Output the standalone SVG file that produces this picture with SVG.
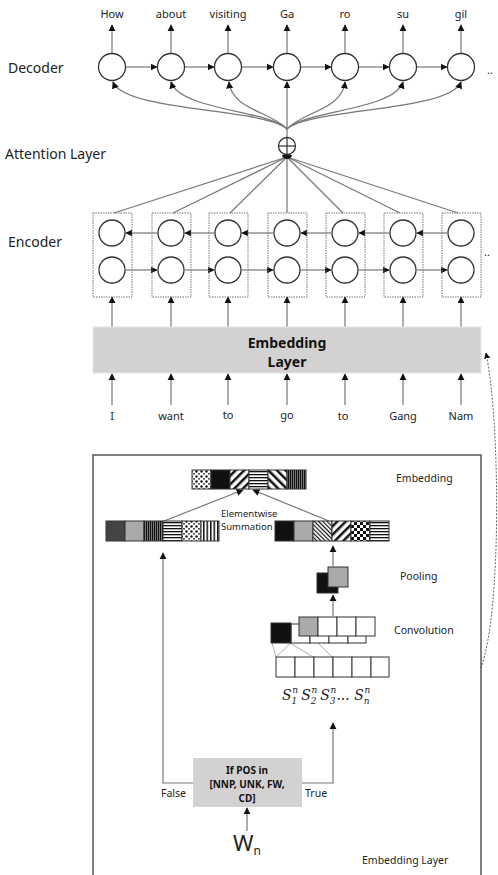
<svg xmlns="http://www.w3.org/2000/svg" width="498" height="875" viewBox="0 0 498 875">
<style>
.lbl{font-family:"Noto Sans","Open Sans",sans-serif;fill:#222}
.t11{font-size:11px}
.t14{font-size:14px}
.t10{font-size:10.5px}
.node{fill:#fff;stroke:#333;stroke-width:1.3}
.ln{stroke:#777;stroke-width:1.2;fill:none}
.ar{stroke:#777;stroke-width:1.2;fill:none;marker-end:url(#ah)}
.box{fill:none;stroke:#777;stroke-width:1;stroke-dasharray:1.5,1}
.cell{stroke:#333;stroke-width:1}
.bold{font-weight:bold;fill:#111}
</style>
<defs>
<marker id="ah" viewBox="0 0 10 10" refX="9" refY="5" markerWidth="6" markerHeight="6" orient="auto"><path d="M0,0L10,5L0,10z" fill="#111"/></marker>
<pattern id="pDots" width="5" height="5" patternUnits="userSpaceOnUse"><rect width="5" height="5" fill="#fff"/><circle cx="1.5" cy="1.5" r="1.2" fill="#111"/><circle cx="4" cy="3.8" r="0.9" fill="#111"/></pattern>
<pattern id="pBack" width="6" height="6" patternUnits="userSpaceOnUse" patternTransform="rotate(45)"><rect width="6" height="6" fill="#fff"/><rect width="2.5" height="6" fill="#111"/></pattern>
<pattern id="pSlash" width="6" height="6" patternUnits="userSpaceOnUse" patternTransform="rotate(-45)"><rect width="6" height="6" fill="#fff"/><rect width="2.5" height="6" fill="#111"/></pattern>
<pattern id="pFine" width="3" height="3" patternUnits="userSpaceOnUse" patternTransform="rotate(-45)"><rect width="3" height="3" fill="#fff"/><rect width="1.2" height="3" fill="#111"/></pattern>
<pattern id="pHor" width="4" height="3" patternUnits="userSpaceOnUse"><rect width="4" height="3" fill="#fff"/><rect width="4" height="1.3" fill="#111"/></pattern>
<pattern id="pVdark" width="2" height="4" patternUnits="userSpaceOnUse"><rect width="2" height="4" fill="#777"/><rect width="1" height="4" fill="#111"/></pattern>
<pattern id="pVert" width="3.5" height="4" patternUnits="userSpaceOnUse"><rect width="3.5" height="4" fill="#fff"/><rect width="1.5" height="4" fill="#111"/></pattern>
<pattern id="pCheck" width="6" height="6" patternUnits="userSpaceOnUse"><rect width="6" height="6" fill="#fff"/><rect width="3" height="3" fill="#111"/><rect x="3" y="3" width="3" height="3" fill="#111"/></pattern>
</defs>

<!-- Labels -->
<g id="labels">
<text class="lbl t14" x="8" y="73">Decoder</text>
<text class="lbl t14" x="5" y="159">Attention Layer</text>
<text class="lbl t14" x="8" y="247">Encoder</text>
<text class="lbl t11" x="487" y="74">..</text>
<text class="lbl t11" x="484" y="256">..</text>
</g>

<!-- Connectors -->
<g id="connectors">
<g>
<line class="ar" x1="112" y1="53" x2="112" y2="25"/>
<line class="ar" x1="171" y1="53" x2="171" y2="25"/>
<line class="ar" x1="228" y1="53" x2="228" y2="25"/>
<line class="ar" x1="287" y1="53" x2="287" y2="25"/>
<line class="ar" x1="345" y1="53" x2="345" y2="25"/>
<line class="ar" x1="403" y1="53" x2="403" y2="25"/>
<line class="ar" x1="461" y1="53" x2="461" y2="25"/>
</g>
<g>
<line class="ar" x1="126" y1="67" x2="157" y2="67"/>
<line class="ar" x1="185" y1="67" x2="214" y2="67"/>
<line class="ar" x1="242" y1="67" x2="273" y2="67"/>
<line class="ar" x1="301" y1="67" x2="331" y2="67"/>
<line class="ar" x1="359" y1="67" x2="389" y2="67"/>
<line class="ar" x1="417" y1="67" x2="447" y2="67"/>
</g>
<g>
<path class="ar" d="M287,129 C265,108 125,112 113,82"/>
<path class="ar" d="M287,129 C268,110 180,110 171,82"/>
<path class="ar" d="M287,129 C272,112 232,110 229,82"/>
<path class="ar" d="M287,137 L287,82"/>
<path class="ar" d="M287,129 C302,112 342,110 345,82"/>
<path class="ar" d="M287,129 C306,110 394,110 403,82"/>
<path class="ar" d="M287,129 C309,108 449,112 461,82"/>
</g>
<g>
<line class="ln" x1="287" y1="157" x2="114" y2="213"/>
<line class="ln" x1="287" y1="157" x2="173" y2="213"/>
<line class="ln" x1="287" y1="157" x2="230" y2="213"/>
<line class="ln" x1="287" y1="157" x2="287" y2="213"/>
<line class="ln" x1="287" y1="157" x2="343" y2="213"/>
<line class="ln" x1="287" y1="157" x2="400" y2="213"/>
<line class="ln" x1="287" y1="157" x2="458" y2="213"/>
</g>
<g>
<line class="ar" x1="157" y1="233" x2="126" y2="233"/>
<line class="ar" x1="214" y1="233" x2="185" y2="233"/>
<line class="ar" x1="273" y1="233" x2="242" y2="233"/>
<line class="ar" x1="331" y1="233" x2="301" y2="233"/>
<line class="ar" x1="389" y1="233" x2="359" y2="233"/>
<line class="ar" x1="447" y1="233" x2="417" y2="233"/>
</g>
<g>
<line class="ar" x1="126" y1="270" x2="157" y2="270"/>
<line class="ar" x1="185" y1="270" x2="214" y2="270"/>
<line class="ar" x1="242" y1="270" x2="273" y2="270"/>
<line class="ar" x1="301" y1="270" x2="331" y2="270"/>
<line class="ar" x1="359" y1="270" x2="389" y2="270"/>
<line class="ar" x1="417" y1="270" x2="447" y2="270"/>
</g>
<g>
<line class="ar" x1="112" y1="327" x2="112" y2="297"/>
<line class="ar" x1="171" y1="327" x2="171" y2="297"/>
<line class="ar" x1="228" y1="327" x2="228" y2="297"/>
<line class="ar" x1="287" y1="327" x2="287" y2="297"/>
<line class="ar" x1="345" y1="327" x2="345" y2="297"/>
<line class="ar" x1="403" y1="327" x2="403" y2="297"/>
<line class="ar" x1="461" y1="327" x2="461" y2="297"/>
</g>
<g>
<line class="ar" x1="112" y1="405" x2="112" y2="374"/>
<line class="ar" x1="171" y1="405" x2="171" y2="374"/>
<line class="ar" x1="228" y1="405" x2="228" y2="374"/>
<line class="ar" x1="287" y1="405" x2="287" y2="374"/>
<line class="ar" x1="345" y1="405" x2="345" y2="374"/>
<line class="ar" x1="403" y1="405" x2="403" y2="374"/>
<line class="ar" x1="461" y1="405" x2="461" y2="374"/>
</g>
<path d="M481,668 C502,610 500,420 486,353" fill="none" stroke="#666" stroke-width="1" stroke-dasharray="2,1.5" marker-end="url(#ah)"/>
<line class="ar" x1="164" y1="521" x2="243" y2="490"/>
<line class="ar" x1="329" y1="521" x2="253" y2="490"/>
<line class="ar" x1="333" y1="566" x2="333" y2="546"/>
<line class="ar" x1="333" y1="616" x2="333" y2="595"/>
<polyline class="ar" points="193,783 163,783 163,553"/>
<polyline class="ar" points="302,783 333,783 333,723"/>
<line class="ar" x1="247" y1="831" x2="247" y2="808"/>
<g stroke="#999" stroke-width="0.8" fill="none">
<line x1="272" y1="643" x2="276" y2="657"/>
<line x1="290" y1="643" x2="313" y2="657"/>
<line x1="298" y1="636" x2="276" y2="657"/>
<line x1="318" y1="643" x2="332" y2="657"/>
</g>
</g>

<g id="decoder">
<circle class="node" cx="112" cy="67" r="13.5"/>
<circle class="node" cx="171" cy="67" r="13.5"/>
<circle class="node" cx="228" cy="67" r="13.5"/>
<circle class="node" cx="287" cy="67" r="13.5"/>
<circle class="node" cx="345" cy="67" r="13.5"/>
<circle class="node" cx="403" cy="67" r="13.5"/>
<circle class="node" cx="461" cy="67" r="13.5"/>
<g class="lbl t11" text-anchor="middle">
<text x="112" y="18">How</text>
<text x="171" y="18">about</text>
<text x="228" y="18">visiting</text>
<text x="287" y="18">Ga</text>
<text x="345" y="18">ro</text>
<text x="403" y="18">su</text>
<text x="461" y="18">gil</text>
</g>
</g>

<g id="attention">
<circle cx="287" cy="146" r="8.5" fill="#fff" stroke="#333" stroke-width="1.3"/>
<line x1="278.5" y1="146" x2="295.5" y2="146" stroke="#333" stroke-width="1.2"/>
<line x1="287" y1="137.5" x2="287" y2="154.5" stroke="#333" stroke-width="1.2"/>
<path d="M282,155 A5,4 0 0 0 292,155 Z" fill="#111"/>
</g>

<g id="encoder">
<rect class="box" x="93" y="213" width="39" height="84"/>
<rect class="box" x="152" y="213" width="39" height="84"/>
<rect class="box" x="209" y="213" width="39" height="84"/>
<rect class="box" x="268" y="213" width="39" height="84"/>
<rect class="box" x="326" y="213" width="39" height="84"/>
<rect class="box" x="384" y="213" width="39" height="84"/>
<rect class="box" x="442" y="213" width="39" height="84"/>
<circle class="node" cx="112" cy="233" r="13"/><circle class="node" cx="112" cy="270" r="13"/>
<circle class="node" cx="171" cy="233" r="13"/><circle class="node" cx="171" cy="270" r="13"/>
<circle class="node" cx="228" cy="233" r="13"/><circle class="node" cx="228" cy="270" r="13"/>
<circle class="node" cx="287" cy="233" r="13"/><circle class="node" cx="287" cy="270" r="13"/>
<circle class="node" cx="345" cy="233" r="13"/><circle class="node" cx="345" cy="270" r="13"/>
<circle class="node" cx="403" cy="233" r="13"/><circle class="node" cx="403" cy="270" r="13"/>
<circle class="node" cx="461" cy="233" r="13"/><circle class="node" cx="461" cy="270" r="13"/>
</g>

<g id="embedding-layer">
<rect x="93" y="327" width="388" height="46" fill="#d3d1d1" stroke="#e6e6e6" stroke-width="1"/>
<text class="lbl bold" x="287" y="348" font-size="14" text-anchor="middle">Embedding</text>
<text class="lbl bold" x="287" y="367" font-size="14" text-anchor="middle">Layer</text>
</g>

<g id="inputs" class="lbl t11" text-anchor="middle">
<text x="112" y="420">I</text>
<text x="171" y="420">want</text>
<text x="228" y="419">to</text>
<text x="287" y="419">go</text>
<text x="343" y="420">to</text>
<text x="403" y="420">Gang</text>
<text x="461" y="420">Nam</text>
</g>

<g id="panel">
<rect x="93" y="455" width="388" height="425" fill="none" stroke="#555" stroke-width="1.5"/>
<text class="lbl t10" x="396" y="482">Embedding</text>
<text class="lbl t10" x="400" y="580">Pooling</text>
<text class="lbl t10" x="394" y="634">Convolution</text>
<text class="lbl t10" x="362" y="864">Embedding Layer</text>
</g>

<g id="embedding-vector">
<rect class="cell" x="192" y="470" width="19" height="19" fill="url(#pDots)"/>
<rect class="cell" x="211" y="470" width="19" height="19" fill="#111"/>
<rect class="cell" x="230" y="470" width="19" height="19" fill="url(#pBack)"/>
<rect class="cell" x="249" y="470" width="19" height="19" fill="url(#pHor)"/>
<rect class="cell" x="268" y="470" width="19" height="19" fill="url(#pSlash)"/>
<rect class="cell" x="287" y="470" width="19" height="19" fill="url(#pVdark)"/>
<text class="lbl" x="221" y="516.5" font-size="9.5" fill="#333">Elementwise</text>
<text class="lbl" x="221" y="530" font-size="9.5" fill="#333">Summation</text>
</g>

<g id="word-vector">
<rect class="cell" x="106" y="521" width="19" height="20" fill="#444"/>
<rect class="cell" x="125" y="521" width="19" height="20" fill="#aaa"/>
<rect class="cell" x="144" y="521" width="19" height="20" fill="url(#pVdark)"/>
<rect class="cell" x="163" y="521" width="19" height="20" fill="url(#pHor)"/>
<rect class="cell" x="182" y="521" width="19" height="20" fill="url(#pDots)"/>
<rect class="cell" x="201" y="521" width="18" height="20" fill="url(#pVert)"/>
</g>

<g id="char-vector">
<rect class="cell" x="275" y="521" width="19" height="20" fill="#111"/>
<rect class="cell" x="294" y="521" width="19" height="20" fill="#aaa"/>
<rect class="cell" x="313" y="521" width="19" height="20" fill="url(#pFine)"/>
<rect class="cell" x="332" y="521" width="19" height="20" fill="url(#pBack)"/>
<rect class="cell" x="351" y="521" width="19" height="20" fill="url(#pCheck)"/>
<rect class="cell" x="370" y="521" width="19" height="20" fill="url(#pHor)"/>
</g>

<g id="pooling">
<rect class="cell" x="317" y="573" width="21" height="20" fill="#111"/>
<rect class="cell" x="328" y="567" width="20" height="20" fill="#aaa"/>
</g>

<g id="convolution">
<rect class="cell" x="291" y="624" width="19" height="19" fill="#fff"/>
<rect class="cell" x="310" y="624" width="19" height="19" fill="#fff"/>
<rect class="cell" x="329" y="624" width="19" height="19" fill="#fff"/>
<rect class="cell" x="348" y="624" width="18" height="19" fill="#fff"/>
<rect class="cell" x="299" y="617" width="19" height="19" fill="#aaa"/>
<rect class="cell" x="318" y="617" width="19" height="19" fill="#fff"/>
<rect class="cell" x="337" y="617" width="19" height="19" fill="#fff"/>
<rect class="cell" x="356" y="617" width="19" height="19" fill="#fff"/>
<rect class="cell" x="271" y="623" width="20" height="20" fill="#111"/>
</g>

<g id="sentence">
<rect class="cell" x="276" y="657" width="19" height="20" fill="#fff"/>
<rect class="cell" x="295" y="657" width="19" height="20" fill="#fff"/>
<rect class="cell" x="314" y="657" width="19" height="20" fill="#fff"/>
<rect class="cell" x="333" y="657" width="19" height="20" fill="#fff"/>
<rect class="cell" x="352" y="657" width="19" height="20" fill="#fff"/>
<rect class="cell" x="371" y="657" width="18" height="20" fill="#fff"/>
<text x="282" y="700" font-family="'DejaVu Serif','Liberation Serif',serif" font-style="italic" font-size="14" fill="#222">S<tspan font-size="9" dy="4">1</tspan><tspan font-size="9" dx="-5" dy="-11">n</tspan><tspan dy="7" dx="3">S</tspan><tspan font-size="9" dy="4">2</tspan><tspan font-size="9" dx="-5" dy="-11">n</tspan><tspan dy="7" dx="3">S</tspan><tspan font-size="9" dy="4">3</tspan><tspan font-size="9" dx="-5" dy="-11">n</tspan><tspan dy="7">... S</tspan><tspan font-size="9" dy="4">n</tspan><tspan font-size="9" dx="-5" dy="-11">n</tspan></text>
</g>

<g id="pos-check">
<rect x="193" y="758" width="109" height="49" fill="#d3d1d1"/>
<g class="lbl bold" font-size="10" text-anchor="middle">
<text x="247" y="774">If POS in</text>
<text x="247" y="788">[NNP, UNK, FW,</text>
<text x="247" y="802">CD]</text>
</g>
<text class="lbl t10" x="161" y="797">False</text>
<text class="lbl t10" x="305" y="797">True</text>
</g>

<g id="word-input">
<text class="lbl" x="233" y="851" font-size="22">W<tspan font-size="12" dy="4">n</tspan></text>
</g>
</svg>
